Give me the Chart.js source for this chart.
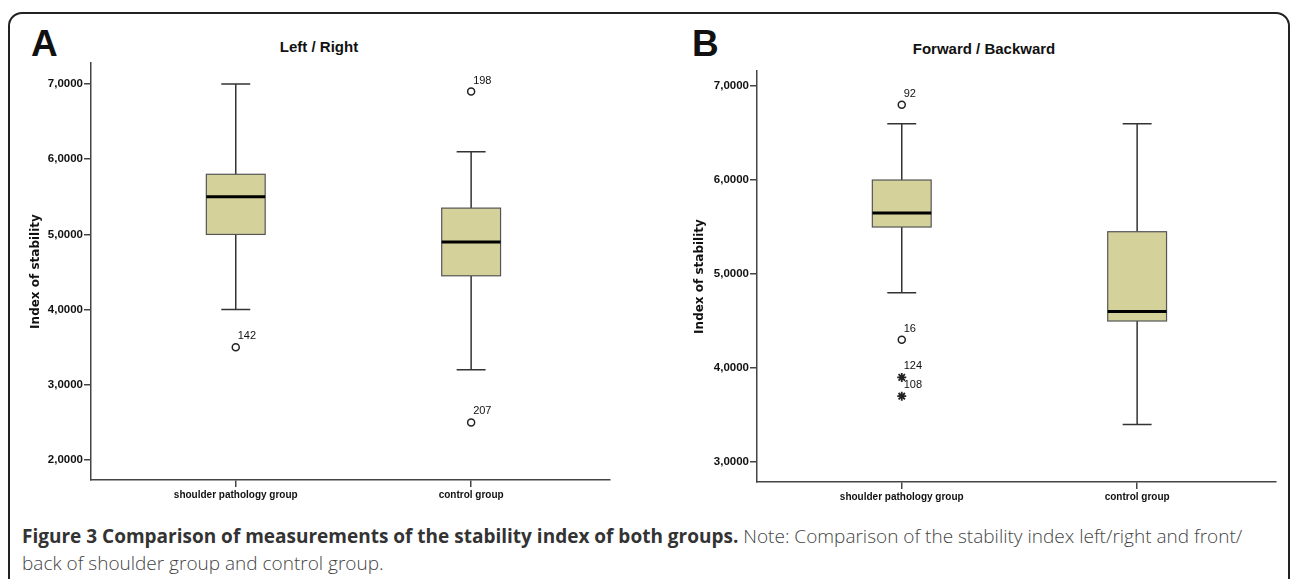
<!DOCTYPE html>
<html>
<head>
<meta charset="utf-8">
<script src="https://cdn.jsdelivr.net/npm/chart.js@4.4.1/dist/chart.umd.min.js"></script>
<style>
  body { margin: 0; width: 1290px; height: 579px; overflow: hidden; background: #fff; position: relative; font-family: "Liberation Sans", Arial, sans-serif; }
  #frame { position: absolute; left: 8px; top: 12px; width: 1282px; height: 620px; border: 2.5px solid #222; border-radius: 14px 14px 0 0; box-sizing: border-box; }
  .letter { position: absolute; font: bold 37px/1 "Liberation Sans", Arial, sans-serif; color: #111; }
  .ptitle { position: absolute; width: 300px; text-align: center; font: bold 15px/1 "Liberation Sans", Arial, sans-serif; color: #111; }
  canvas { position: absolute; }
  #caption { position: absolute; left: 22px; top: 523px; width: 1265px; white-space: nowrap; font: 19px/27px "Open Sans", "Noto Sans", sans-serif; color: #444; }
  #caption b { color: #333; font-weight: 700; }
  #caption span { font-weight: 300; }
</style>
</head>
<body>
<div id="frame"></div>
<div class="letter" style="left:31px; top:25px;">A</div>
<div class="letter" style="left:692px; top:25px;">B</div>
<div class="ptitle" style="left:169px; top:39px;">Left / Right</div>
<div class="ptitle" style="left:834px; top:41px;">Forward / Backward</div>
<canvas id="chartA" width="640" height="460" style="left:0px; top:55px;"></canvas>
<canvas id="chartB" width="645" height="460" style="left:645px; top:55px;"></canvas>
<div id="caption"><b>Figure 3 Comparison of measurements of the stability index of both groups.</b> <span>Note: Comparison of the stability index left/right and front/<br>back of shoulder group and control group.</span></div>
<script>
const categories = ["shoulder pathology group", "control group"];

// A: Left / Right
const lrMin = [4.0, 3.2];
const lrQ1 = [5.0, 4.45];
const lrMedian = [5.5, 4.9];
const lrQ3 = [5.8, 5.35];
const lrMax = [7.0, 6.1];
const lrOutGroup = [0, 1, 1];
const lrOutValue = [3.5, 6.9, 2.5];
const lrOutCase = ["142", "198", "207"];
const lrOutMark = ["o", "o", "o"];
const lrTicks = [2, 3, 4, 5, 6, 7];

// B: Forward / Backward
const fbMin = [4.8, 3.4];
const fbQ1 = [5.5, 4.5];
const fbMedian = [5.65, 4.6];
const fbQ3 = [6.0, 5.45];
const fbMax = [6.6, 6.6];
const fbOutGroup = [0, 0, 0, 0];
const fbOutValue = [6.8, 4.3, 3.9, 3.7];
const fbOutCase = ["92", "16", "124", "108"];
const fbOutMark = ["o", "o", "*", "*"];
const fbTicks = [3, 4, 5, 6, 7];

const BOX_FILL = "#d4d19b";
const BOX_W = 0.25;
const CAP_W = 0.123;

// boxes, whiskers and medians, drawn through the chart scales
const boxPlugin = (st) => ({
  id: "boxes",
  beforeDatasetsDraw(chart) {
    const { ctx, scales: { x, y } } = chart;
    ctx.save();
    st.q1.forEach((q1, i) => {
      const xc = x.getPixelForValue(i);
      const bl = x.getPixelForValue(i - BOX_W / 2), br = x.getPixelForValue(i + BOX_W / 2);
      const cl = x.getPixelForValue(i - CAP_W / 2), cr = x.getPixelForValue(i + CAP_W / 2);
      const yMin = y.getPixelForValue(st.min[i]), yMax = y.getPixelForValue(st.max[i]);
      const yQ1 = y.getPixelForValue(q1), yQ3 = y.getPixelForValue(st.q3[i]);
      const yMed = y.getPixelForValue(st.med[i]);
      ctx.strokeStyle = "#333";
      ctx.lineWidth = 1.5;
      ctx.beginPath();
      ctx.moveTo(xc, yQ3); ctx.lineTo(xc, yMax);
      ctx.moveTo(cl, yMax); ctx.lineTo(cr, yMax);
      ctx.moveTo(xc, yQ1); ctx.lineTo(xc, yMin);
      ctx.moveTo(cl, yMin); ctx.lineTo(cr, yMin);
      ctx.stroke();
      ctx.fillStyle = BOX_FILL;
      ctx.fillRect(bl, yQ3, br - bl, yQ1 - yQ3);
      ctx.strokeStyle = "#555";
      ctx.lineWidth = 1.2;
      ctx.strokeRect(bl, yQ3, br - bl, yQ1 - yQ3);
      ctx.strokeStyle = "#000";
      ctx.lineWidth = 3;
      ctx.beginPath();
      ctx.moveTo(bl, yMed); ctx.lineTo(br, yMed);
      ctx.stroke();
    });
    ctx.restore();
  },
  afterDatasetsDraw(chart) {
    const { ctx, scales: { x, y } } = chart;
    ctx.save();
    ctx.font = "11px 'Liberation Sans', Arial, sans-serif";
    ctx.fillStyle = "#111";
    ctx.textBaseline = "middle";
    st.outCase.forEach((c, i) => {
      ctx.fillText(c, x.getPixelForValue(st.outGroup[i]) + 2, y.getPixelForValue(st.outValue[i]) - 11);
    });
    ctx.restore();
  }
});

const pick = (st, mark) => st.outGroup
  .map((g, i) => ({ x: g, y: st.outValue[i] }))
  .filter((p, i) => st.outMark[i] === mark);

const makePanel = (id, st, ticks, yRange, pad, yWidth, xHeight) => {
  new Chart(document.getElementById(id), {
    type: "scatter",
    data: {
      datasets: [
        { data: pick(st, "o"), pointStyle: "circle", pointRadius: 3.5, borderWidth: 1.5, borderColor: "#222", backgroundColor: "#fff" },
        { data: pick(st, "*"), pointStyle: "star", pointRadius: 4.5, borderWidth: 1.8, borderColor: "#222", backgroundColor: "#222" },
      ],
    },
    options: {
      responsive: false,
      animation: false,
      events: [],
      layout: { padding: pad },
      plugins: { legend: { display: false }, tooltip: { enabled: false } },
      scales: {
        x: {
          type: "linear",
          min: -0.615,
          max: 1.59,
          afterBuildTicks: (s) => { s.ticks = categories.map((c, i) => ({ value: i })); },
          afterFit: (s) => { s.height = xHeight; },
          ticks: {
            callback: (v) => categories[v],
            font: { family: "'Liberation Sans', Arial, sans-serif", size: 10, weight: "bold" },
            color: "#111",
            padding: 2,
            maxRotation: 0,
            autoSkip: false,
          },
          grid: { drawOnChartArea: false, tickLength: 7, color: "#444", lineWidth: 1.5 },
          border: { color: "#444", width: 1.5 },
        },
        y: {
          min: yRange[0],
          max: yRange[1],
          afterBuildTicks: (s) => { s.ticks = ticks.map((v) => ({ value: v })); },
          afterFit: (s) => { s.width = yWidth; },
          ticks: {
            callback: (v) => v.toFixed(4).replace(".", ","),
            font: { family: "'Liberation Sans', Arial, sans-serif", size: 11.5, weight: "bold" },
            color: "#111",
            padding: 1,
          },
          grid: { drawOnChartArea: false, tickLength: 7, color: "#444", lineWidth: 1.5 },
          border: { color: "#444", width: 1.5 },
          title: {
            display: true,
            text: "Index of stability",
            font: { family: "'DejaVu Sans', sans-serif", size: 12, weight: "bold" },
            color: "#111",
            padding: { top: 4, bottom: 0 },
          },
        },
      },
    },
    plugins: [boxPlugin(st)],
  });
};

makePanel("chartA",
  { min: lrMin, q1: lrQ1, med: lrMedian, q3: lrQ3, max: lrMax, outGroup: lrOutGroup, outValue: lrOutValue, outCase: lrOutCase, outMark: lrOutMark },
  lrTicks, [1.734, 7.28], { left: 25, right: 30, top: 8, bottom: 0 }, 66, 35);

makePanel("chartB",
  { min: fbMin, q1: fbQ1, med: fbMedian, q3: fbQ3, max: fbMax, outGroup: fbOutGroup, outValue: fbOutValue, outCase: fbOutCase, outMark: fbOutMark },
  fbTicks, [2.787, 7.16], { left: 44, right: 14, top: 16, bottom: 0 }, 68, 33);
</script>
</body>
</html>
